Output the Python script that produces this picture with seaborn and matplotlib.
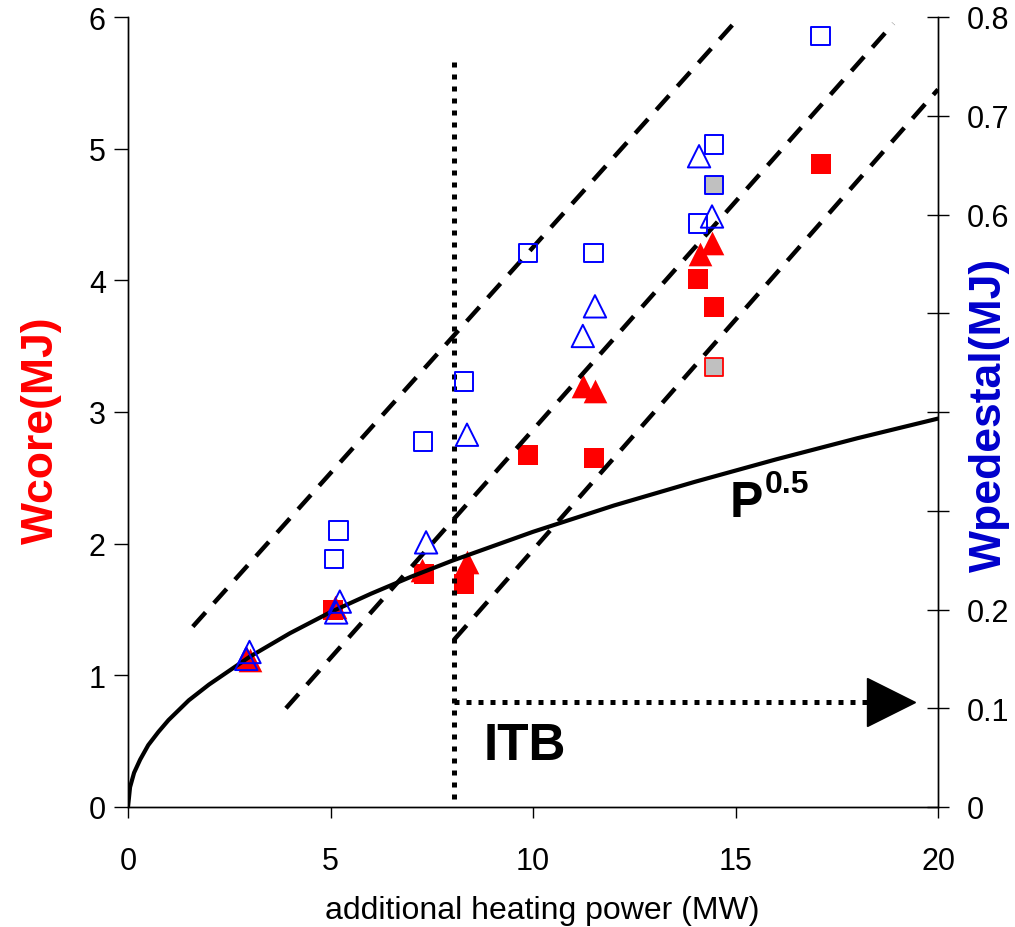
import numpy as np
import pandas as pd
import matplotlib
matplotlib.use("Agg")
import matplotlib.pyplot as plt
import seaborn as sns

# ---------------- data ----------------
# Wcore (left axis, MJ) - red filled squares
core_sq_x = [17.1, 14.07, 14.47, 9.88, 11.5, 7.3, 8.3, 5.05]
core_sq_y = [4.88, 4.01, 3.80, 2.67, 2.65, 1.77, 1.69, 1.50]
# Wcore - grey square with red edge
core_grey_x = [14.47]
core_grey_y = [3.34]
# Wcore - red filled triangles
core_tri_x = [14.12, 14.42, 11.24, 11.53, 8.37, 7.25, 5.1, 2.92, 3.0]
core_tri_y = [4.20, 4.28, 3.20, 3.16, 1.86, 1.80, 1.52, 1.14, 1.12]

# Wpedestal (right axis, MJ) - blue open squares
ped_sq_x = [17.1, 14.47, 14.07, 11.49, 9.88, 8.3, 7.28, 5.2, 5.08]
ped_sq_y = [0.781, 0.671, 0.591, 0.561, 0.561, 0.431, 0.370, 0.280, 0.251]
# Wpedestal - grey square with blue edge
ped_grey_x = [14.47]
ped_grey_y = [0.630]
# Wpedestal - blue open triangles
ped_tri_x = [14.1, 14.42, 11.53, 11.23, 8.37, 7.36, 5.23, 5.14, 3.0, 2.92]
ped_tri_y = [0.659, 0.598, 0.507, 0.477, 0.377, 0.268, 0.208, 0.197, 0.157, 0.150]

# P^0.5 scaling curve
curve_x = [0, 0.05, 0.15, 0.3, 0.5, 0.75, 1, 1.5, 2, 3, 4, 5, 6, 7, 8, 9, 10, 12, 14, 16, 18, 20]
curve_y = [0, 0.15, 0.26, 0.36, 0.47, 0.57, 0.66, 0.81, 0.93, 1.14, 1.32, 1.48, 1.62, 1.75,
           1.87, 1.98, 2.09, 2.29, 2.47, 2.64, 2.80, 2.95]

# dashed guide lines (start / end)
guide_upper_x = [1.6, 15.1]
guide_upper_y = [1.37, 6.0]
guide_mid_x = [3.9, 18.9]
guide_mid_y = [0.75, 5.95]
guide_low_x = [8.05, 20.0]
guide_low_y = [1.27, 5.45]

# ITB threshold
itb_vline_x = [8.05, 8.05]
itb_vline_y = [0.06, 5.68]
itb_arrow_x = [8.05, 18.3]
itb_arrow_y = [0.80, 0.80]
itb_head_x = [18.85]
itb_head_y = [0.80]

x_ticks = [0, 5, 10, 15, 20]
left_ticks = [0, 1, 2, 3, 4, 5, 6]
right_ticks = [0, 0.1, 0.2, 0.3, 0.4, 0.5, 0.6, 0.7, 0.8]
right_labels = ["0", "0.1", "0.2", "", "", "", "0.6", "0.7", "0.8"]

# ---------------- style ----------------
sns.set_theme(style="white")
plt.rcParams["font.family"] = ["Liberation Sans", "DejaVu Sans"]
plt.rcParams["axes.linewidth"] = 1.0

fig = plt.figure(figsize=(10.15, 9.28), dpi=100)
ax = fig.add_axes([128 / 1015, 120 / 928, 810 / 1015, 790 / 928])
ax2 = ax.twinx()

RED = "#ff0000"
BLUE = "#0000ff"

# red (core) markers
sns.scatterplot(x=core_sq_x, y=core_sq_y, ax=ax, marker="s", s=200, color=RED,
                edgecolor=RED, linewidth=0, zorder=3)
sns.scatterplot(x=core_grey_x, y=core_grey_y, ax=ax, marker="s", s=180, color="#c0c0c0",
                edgecolor=RED, linewidth=1.3, zorder=3)
sns.scatterplot(x=core_tri_x, y=core_tri_y, ax=ax, marker="^", s=290, color=RED,
                edgecolor=RED, linewidth=0, zorder=3)

# lines
lw_dash = 3.2
for gx, gy in [(guide_upper_x, guide_upper_y), (guide_mid_x, guide_mid_y), (guide_low_x, guide_low_y)]:
    sns.lineplot(x=gx, y=gy, ax=ax, color="black", lw=lw_dash, sort=False,
                 estimator=None, zorder=4).lines[-1].set_dashes((4.3, 2.8))

sns.lineplot(x=curve_x, y=curve_y, ax=ax, color="black", lw=3.0, sort=False,
             estimator=None, zorder=4)

l1 = sns.lineplot(x=itb_vline_x, y=itb_vline_y, ax=ax, color="black", lw=3.6, sort=False,
                  estimator=None, zorder=4).lines[-1]
l1.set_dashes((1, 1.4))
l2 = sns.lineplot(x=itb_arrow_x, y=itb_arrow_y, ax=ax, color="black", lw=3.6, sort=False,
                  estimator=None, zorder=4).lines[-1]
l2.set_dashes((1, 1.4))
ax.plot(itb_head_x, itb_head_y, marker=">", ms=34, color="black", lw=0, zorder=5,
        clip_on=False)

# blue (pedestal) markers on right axis
sns.scatterplot(x=ped_sq_x, y=ped_sq_y, ax=ax2, marker="s", s=175, facecolor="none",
                edgecolor=BLUE, linewidth=1.4, zorder=3)
sns.scatterplot(x=ped_grey_x, y=ped_grey_y, ax=ax2, marker="s", s=175, color="#c0c0c0",
                edgecolor=BLUE, linewidth=1.4, zorder=3)
sns.scatterplot(x=ped_tri_x, y=ped_tri_y, ax=ax2, marker="^", s=260, facecolor="none",
                edgecolor=BLUE, linewidth=1.4, zorder=3)

# texts
ax.text(9.8, 0.47, "ITB", fontsize=37, fontweight="bold", ha="center", va="center", color="black")
ax.text(14.86, 2.21, "P", fontsize=36, fontweight="bold", ha="left", va="baseline", color="black")
ax.text(15.73, 2.34, "0.5", fontsize=23, fontweight="bold", ha="left", va="bottom", color="black")

# axes
ax.set_xlim(0, 20)
ax.set_ylim(0, 6)
ax2.set_ylim(0, 0.8)
ax.set_xticks(x_ticks)
ax.set_xticklabels([str(t) for t in x_ticks])
ax.set_yticks(left_ticks)
ax.set_yticklabels([str(t) for t in left_ticks])
ax2.set_yticks(right_ticks)
ax2.set_yticklabels(right_labels)
ax2.set_xlim(0, 20)

for a in (ax, ax2):
    a.spines["top"].set_visible(False)
    for s in a.spines.values():
        s.set_color("black")
        s.set_linewidth(1.0)
    a.grid(False)

ax.tick_params(axis="x", direction="out", length=8, width=1, pad=20, labelsize=22,
               colors="black", bottom=True)
ax.tick_params(axis="y", direction="out", length=10, width=1, pad=6, labelsize=22,
               colors="black", left=True)
ax2.tick_params(axis="y", direction="inout", length=16, width=1, pad=13, labelsize=22,
                colors="black", right=True)

ax.set_xlabel("additional heating power (MW)", fontsize=23, color="black")
ax.xaxis.set_label_coords(0.511, -0.112)
ax.set_ylabel("Wcore(MJ)", fontsize=32, fontweight="bold", color=RED)
ax.yaxis.set_label_coords(-0.082, 0.478)
ax2.set_ylabel("Wpedestal(MJ)", fontsize=32, fontweight="bold", color="#0000cc")
ax2.yaxis.set_label_coords(1.038, 0.497)

fig.savefig("out.png", dpi=100)
